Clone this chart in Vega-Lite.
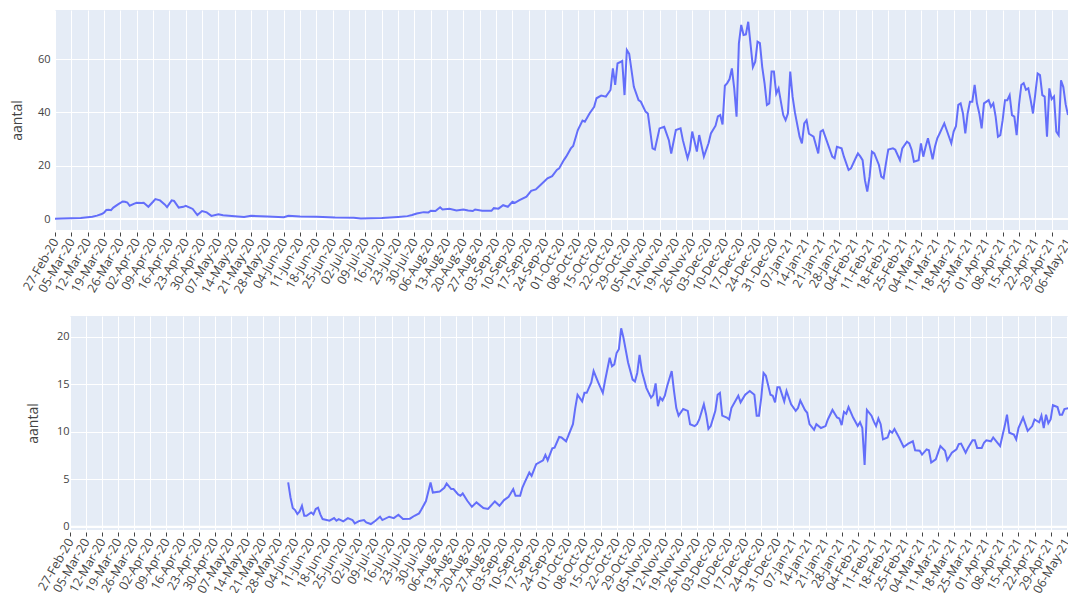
{
  "$schema": "https://vega.github.io/schema/vega-lite/v6.json",
  "padding": {"left": 9, "top": 10, "right": 0, "bottom": 0},
  "spacing": 20,
  "config": {
    "font": "Open Sans",
    "view": {"fill": "#E5ECF6", "stroke": null},
    "axis": {"labelColor": "#444", "titleColor": "#444", "gridColor": "#ffffff", "gridWidth": 1, "domain": false, "labelFont": "Open Sans", "titleFont": "Open Sans", "titleFontWeight": "normal"}
  },
  "datasets": {
    "top": [
      {"date":"2020-02-27","aantal":0.1},{"date":"2020-03-01","aantal":0.2},{"date":"2020-03-05","aantal":0.3},{"date":"2020-03-09","aantal":0.4},{"date":"2020-03-12","aantal":0.7},{"date":"2020-03-14","aantal":0.9},{"date":"2020-03-16","aantal":1.3},{"date":"2020-03-18","aantal":1.9},{"date":"2020-03-19","aantal":2.4},{"date":"2020-03-20","aantal":3.4},{"date":"2020-03-21","aantal":3.5},{"date":"2020-03-22","aantal":3.3},{"date":"2020-03-23","aantal":4.3},{"date":"2020-03-25","aantal":5.5},{"date":"2020-03-27","aantal":6.6},{"date":"2020-03-28","aantal":6.5},{"date":"2020-03-29","aantal":6.2},{"date":"2020-03-30","aantal":5.0},
      {"date":"2020-04-01","aantal":5.8},{"date":"2020-04-02","aantal":6.1},{"date":"2020-04-04","aantal":6.0},{"date":"2020-04-05","aantal":6.1},{"date":"2020-04-07","aantal":4.6},{"date":"2020-04-09","aantal":6.5},{"date":"2020-04-10","aantal":7.5},{"date":"2020-04-12","aantal":7.0},{"date":"2020-04-14","aantal":5.5},{"date":"2020-04-15","aantal":4.5},{"date":"2020-04-17","aantal":7.0},{"date":"2020-04-18","aantal":6.8},{"date":"2020-04-20","aantal":4.3},{"date":"2020-04-22","aantal":4.6},{"date":"2020-04-23","aantal":5.0},{"date":"2020-04-25","aantal":4.2},{"date":"2020-04-26","aantal":3.8},{"date":"2020-04-28","aantal":1.5},{"date":"2020-04-30","aantal":3.0},
      {"date":"2020-05-02","aantal":2.5},{"date":"2020-05-04","aantal":1.2},{"date":"2020-05-07","aantal":1.8},{"date":"2020-05-09","aantal":1.4},{"date":"2020-05-14","aantal":1.1},{"date":"2020-05-18","aantal":0.8},{"date":"2020-05-21","aantal":1.2},{"date":"2020-05-28","aantal":1.0},{"date":"2020-06-04","aantal":0.7},{"date":"2020-06-06","aantal":1.2},{"date":"2020-06-11","aantal":1.0},{"date":"2020-06-18","aantal":0.9},{"date":"2020-06-26","aantal":0.6},{"date":"2020-07-04","aantal":0.5},{"date":"2020-07-07","aantal":0.2},{"date":"2020-07-16","aantal":0.4},{"date":"2020-07-23","aantal":0.8},{"date":"2020-07-27","aantal":1.1},{"date":"2020-07-29","aantal":1.5},{"date":"2020-07-31","aantal":2.1},
      {"date":"2020-08-03","aantal":2.6},{"date":"2020-08-05","aantal":2.5},{"date":"2020-08-06","aantal":3.1},{"date":"2020-08-08","aantal":3.0},{"date":"2020-08-10","aantal":4.4},{"date":"2020-08-11","aantal":3.6},{"date":"2020-08-14","aantal":3.9},{"date":"2020-08-17","aantal":3.2},{"date":"2020-08-20","aantal":3.6},{"date":"2020-08-22","aantal":3.2},{"date":"2020-08-24","aantal":3.0},{"date":"2020-08-25","aantal":3.6},{"date":"2020-08-28","aantal":3.1},
      {"date":"2020-09-01","aantal":3.1},{"date":"2020-09-02","aantal":4.1},{"date":"2020-09-04","aantal":3.9},{"date":"2020-09-06","aantal":5.2},{"date":"2020-09-08","aantal":4.6},{"date":"2020-09-10","aantal":6.5},{"date":"2020-09-11","aantal":6.1},{"date":"2020-09-13","aantal":7.1},{"date":"2020-09-16","aantal":8.4},{"date":"2020-09-18","aantal":10.6},{"date":"2020-09-20","aantal":11.1},{"date":"2020-09-22","aantal":12.8},{"date":"2020-09-25","aantal":15.3},{"date":"2020-09-27","aantal":16.1},{"date":"2020-09-29","aantal":18.4},{"date":"2020-09-30","aantal":19.0},
      {"date":"2020-10-02","aantal":22.1},{"date":"2020-10-03","aantal":23.4},{"date":"2020-10-05","aantal":26.5},{"date":"2020-10-06","aantal":27.4},{"date":"2020-10-08","aantal":33.4},{"date":"2020-10-10","aantal":36.9},{"date":"2020-10-11","aantal":36.5},{"date":"2020-10-13","aantal":39.6},{"date":"2020-10-15","aantal":42.1},{"date":"2020-10-16","aantal":45.3},{"date":"2020-10-18","aantal":46.3},{"date":"2020-10-20","aantal":45.9},{"date":"2020-10-22","aantal":48.4},{"date":"2020-10-23","aantal":56.5},{"date":"2020-10-24","aantal":50.3},{"date":"2020-10-25","aantal":58.4},{"date":"2020-10-26","aantal":58.8},{"date":"2020-10-27","aantal":59.3},{"date":"2020-10-28","aantal":46.5},{"date":"2020-10-29","aantal":63.4},{"date":"2020-10-30","aantal":62.0},
      {"date":"2020-11-01","aantal":49.6},{"date":"2020-11-03","aantal":44.6},{"date":"2020-11-04","aantal":44.0},{"date":"2020-11-06","aantal":40.3},{"date":"2020-11-07","aantal":39.6},{"date":"2020-11-09","aantal":26.5},{"date":"2020-11-10","aantal":26.1},{"date":"2020-11-12","aantal":34.0},{"date":"2020-11-14","aantal":34.6},{"date":"2020-11-16","aantal":29.6},{"date":"2020-11-17","aantal":24.6},{"date":"2020-11-19","aantal":33.4},{"date":"2020-11-21","aantal":34.0},{"date":"2020-11-22","aantal":29.6},{"date":"2020-11-24","aantal":22.8},{"date":"2020-11-25","aantal":25.9},{"date":"2020-11-26","aantal":32.8},{"date":"2020-11-28","aantal":25.3},{"date":"2020-11-29","aantal":31.5},
      {"date":"2020-12-01","aantal":23.4},{"date":"2020-12-03","aantal":28.4},{"date":"2020-12-04","aantal":32.1},{"date":"2020-12-06","aantal":35.0},{"date":"2020-12-07","aantal":38.5},{"date":"2020-12-08","aantal":39.0},{"date":"2020-12-09","aantal":35.5},{"date":"2020-12-10","aantal":50.0},{"date":"2020-12-11","aantal":51.0},{"date":"2020-12-12","aantal":52.5},{"date":"2020-12-13","aantal":56.5},{"date":"2020-12-14","aantal":49.0},{"date":"2020-12-15","aantal":38.4},{"date":"2020-12-16","aantal":65.9},{"date":"2020-12-17","aantal":72.8},{"date":"2020-12-18","aantal":69.0},{"date":"2020-12-19","aantal":69.2},{"date":"2020-12-20","aantal":74.0},{"date":"2020-12-22","aantal":57.0},{"date":"2020-12-23","aantal":59.0},{"date":"2020-12-24","aantal":66.5},{"date":"2020-12-25","aantal":66.0},{"date":"2020-12-26","aantal":57.0},{"date":"2020-12-27","aantal":50.9},{"date":"2020-12-28","aantal":42.8},{"date":"2020-12-29","aantal":43.4},{"date":"2020-12-30","aantal":55.3},{"date":"2020-12-31","aantal":55.3},
      {"date":"2021-01-01","aantal":47.0},{"date":"2021-01-02","aantal":49.0},{"date":"2021-01-04","aantal":39.0},{"date":"2021-01-05","aantal":37.1},{"date":"2021-01-06","aantal":39.6},{"date":"2021-01-07","aantal":55.3},{"date":"2021-01-08","aantal":45.9},{"date":"2021-01-09","aantal":40.0},{"date":"2021-01-11","aantal":30.9},{"date":"2021-01-12","aantal":28.4},{"date":"2021-01-13","aantal":35.9},{"date":"2021-01-14","aantal":37.1},{"date":"2021-01-15","aantal":32.0},{"date":"2021-01-17","aantal":30.9},{"date":"2021-01-19","aantal":24.6},{"date":"2021-01-20","aantal":32.8},{"date":"2021-01-21","aantal":33.4},{"date":"2021-01-22","aantal":30.9},{"date":"2021-01-25","aantal":23.4},{"date":"2021-01-26","aantal":22.8},{"date":"2021-01-27","aantal":27.1},{"date":"2021-01-29","aantal":26.5},{"date":"2021-01-30","aantal":23.4},
      {"date":"2021-02-01","aantal":18.4},{"date":"2021-02-02","aantal":19.0},{"date":"2021-02-04","aantal":22.8},{"date":"2021-02-05","aantal":24.6},{"date":"2021-02-06","aantal":23.5},{"date":"2021-02-07","aantal":22.1},{"date":"2021-02-08","aantal":14.6},{"date":"2021-02-09","aantal":10.3},{"date":"2021-02-10","aantal":16.0},{"date":"2021-02-11","aantal":25.3},{"date":"2021-02-12","aantal":24.6},{"date":"2021-02-14","aantal":20.3},{"date":"2021-02-15","aantal":15.9},{"date":"2021-02-16","aantal":15.3},{"date":"2021-02-17","aantal":20.9},{"date":"2021-02-18","aantal":26.1},{"date":"2021-02-20","aantal":26.5},{"date":"2021-02-21","aantal":26.0},{"date":"2021-02-23","aantal":22.1},{"date":"2021-02-24","aantal":26.5},{"date":"2021-02-26","aantal":29.0},{"date":"2021-02-27","aantal":28.4},{"date":"2021-02-28","aantal":26.0},
      {"date":"2021-03-01","aantal":21.5},{"date":"2021-03-03","aantal":22.1},{"date":"2021-03-04","aantal":28.4},{"date":"2021-03-05","aantal":23.4},{"date":"2021-03-06","aantal":27.1},{"date":"2021-03-07","aantal":30.3},{"date":"2021-03-08","aantal":26.5},{"date":"2021-03-09","aantal":22.4},{"date":"2021-03-10","aantal":27.1},{"date":"2021-03-11","aantal":30.3},{"date":"2021-03-12","aantal":32.1},{"date":"2021-03-13","aantal":34.0},{"date":"2021-03-14","aantal":35.9},{"date":"2021-03-15","aantal":33.4},{"date":"2021-03-17","aantal":28.4},{"date":"2021-03-18","aantal":32.8},{"date":"2021-03-19","aantal":34.8},{"date":"2021-03-20","aantal":42.8},{"date":"2021-03-21","aantal":43.4},{"date":"2021-03-22","aantal":39.6},{"date":"2021-03-23","aantal":32.1},{"date":"2021-03-24","aantal":39.6},{"date":"2021-03-25","aantal":44.0},{"date":"2021-03-26","aantal":44.0},{"date":"2021-03-27","aantal":50.3},{"date":"2021-03-28","aantal":43.4},{"date":"2021-03-29","aantal":39.6},{"date":"2021-03-30","aantal":34.0},{"date":"2021-03-31","aantal":43.4},
      {"date":"2021-04-02","aantal":44.6},{"date":"2021-04-03","aantal":42.1},{"date":"2021-04-04","aantal":43.4},{"date":"2021-04-05","aantal":38.4},{"date":"2021-04-06","aantal":30.9},{"date":"2021-04-07","aantal":31.5},{"date":"2021-04-08","aantal":37.1},{"date":"2021-04-09","aantal":44.6},{"date":"2021-04-10","aantal":44.6},{"date":"2021-04-11","aantal":46.5},{"date":"2021-04-12","aantal":39.0},{"date":"2021-04-13","aantal":38.4},{"date":"2021-04-14","aantal":31.5},{"date":"2021-04-15","aantal":42.8},{"date":"2021-04-16","aantal":50.3},{"date":"2021-04-17","aantal":51.0},{"date":"2021-04-18","aantal":48.5},{"date":"2021-04-19","aantal":49.0},{"date":"2021-04-20","aantal":44.6},{"date":"2021-04-21","aantal":39.6},{"date":"2021-04-22","aantal":47.0},{"date":"2021-04-23","aantal":54.6},{"date":"2021-04-24","aantal":54.0},{"date":"2021-04-25","aantal":46.5},{"date":"2021-04-26","aantal":45.9},{"date":"2021-04-27","aantal":30.9},{"date":"2021-04-28","aantal":49.0},{"date":"2021-04-29","aantal":45.0},{"date":"2021-04-30","aantal":46.0},
      {"date":"2021-05-01","aantal":32.8},{"date":"2021-05-02","aantal":31.5},{"date":"2021-05-03","aantal":52.0},{"date":"2021-05-04","aantal":49.5},{"date":"2021-05-05","aantal":43.0},{"date":"2021-05-06","aantal":39.0}
    ],
    "bottom": [
      {"date":"2020-06-01","aantal":4.66},{"date":"2020-06-02","aantal":3.1},{"date":"2020-06-03","aantal":1.96},{"date":"2020-06-04","aantal":1.75},{"date":"2020-06-05","aantal":1.33},{"date":"2020-06-06","aantal":1.6},{"date":"2020-06-07","aantal":2.2},{"date":"2020-06-08","aantal":1.15},{"date":"2020-06-09","aantal":1.15},{"date":"2020-06-11","aantal":1.5},{"date":"2020-06-12","aantal":1.3},{"date":"2020-06-13","aantal":1.86},{"date":"2020-06-14","aantal":2.0},{"date":"2020-06-15","aantal":1.3},{"date":"2020-06-16","aantal":0.8},{"date":"2020-06-19","aantal":0.63},{"date":"2020-06-21","aantal":0.9},{"date":"2020-06-22","aantal":0.63},{"date":"2020-06-23","aantal":0.8},{"date":"2020-06-25","aantal":0.56},{"date":"2020-06-27","aantal":0.9},{"date":"2020-06-29","aantal":0.7},{"date":"2020-06-30","aantal":0.35},
      {"date":"2020-07-02","aantal":0.6},{"date":"2020-07-04","aantal":0.7},{"date":"2020-07-05","aantal":0.45},{"date":"2020-07-07","aantal":0.28},{"date":"2020-07-09","aantal":0.63},{"date":"2020-07-11","aantal":1.05},{"date":"2020-07-12","aantal":0.7},{"date":"2020-07-15","aantal":1.05},{"date":"2020-07-17","aantal":0.9},{"date":"2020-07-19","aantal":1.26},{"date":"2020-07-21","aantal":0.8},{"date":"2020-07-24","aantal":0.84},{"date":"2020-07-26","aantal":1.15},{"date":"2020-07-28","aantal":1.4},{"date":"2020-07-29","aantal":1.8},{"date":"2020-07-31","aantal":2.7},
      {"date":"2020-08-02","aantal":4.66},{"date":"2020-08-03","aantal":3.6},{"date":"2020-08-06","aantal":3.7},{"date":"2020-08-08","aantal":4.1},{"date":"2020-08-09","aantal":4.55},{"date":"2020-08-11","aantal":3.96},{"date":"2020-08-12","aantal":3.96},{"date":"2020-08-14","aantal":3.4},{"date":"2020-08-15","aantal":3.25},{"date":"2020-08-16","aantal":3.5},{"date":"2020-08-18","aantal":2.73},{"date":"2020-08-20","aantal":2.1},{"date":"2020-08-22","aantal":2.56},{"date":"2020-08-25","aantal":1.96},{"date":"2020-08-27","aantal":1.86},{"date":"2020-08-30","aantal":2.66},
      {"date":"2020-09-01","aantal":2.2},{"date":"2020-09-03","aantal":2.8},{"date":"2020-09-05","aantal":3.15},{"date":"2020-09-07","aantal":3.96},{"date":"2020-09-08","aantal":3.25},{"date":"2020-09-10","aantal":3.25},{"date":"2020-09-11","aantal":4.13},{"date":"2020-09-12","aantal":4.66},{"date":"2020-09-14","aantal":5.7},{"date":"2020-09-15","aantal":5.36},{"date":"2020-09-17","aantal":6.58},{"date":"2020-09-20","aantal":7.0},{"date":"2020-09-21","aantal":7.56},{"date":"2020-09-22","aantal":7.0},{"date":"2020-09-24","aantal":8.26},{"date":"2020-09-25","aantal":8.33},{"date":"2020-09-27","aantal":9.45},{"date":"2020-09-28","aantal":9.4},{"date":"2020-09-30","aantal":9.0},
      {"date":"2020-10-03","aantal":10.8},{"date":"2020-10-04","aantal":12.5},{"date":"2020-10-05","aantal":13.9},{"date":"2020-10-07","aantal":13.2},{"date":"2020-10-08","aantal":14.1},{"date":"2020-10-09","aantal":14.1},{"date":"2020-10-11","aantal":15.2},{"date":"2020-10-12","aantal":16.4},{"date":"2020-10-14","aantal":15.2},{"date":"2020-10-16","aantal":14.1},{"date":"2020-10-17","aantal":15.4},{"date":"2020-10-19","aantal":17.8},{"date":"2020-10-20","aantal":16.9},{"date":"2020-10-21","aantal":17.1},{"date":"2020-10-22","aantal":18.3},{"date":"2020-10-23","aantal":18.7},{"date":"2020-10-24","aantal":20.9},{"date":"2020-10-25","aantal":19.9},{"date":"2020-10-27","aantal":17.3},{"date":"2020-10-29","aantal":15.5},{"date":"2020-10-30","aantal":15.3},{"date":"2020-10-31","aantal":16.2},
      {"date":"2020-11-01","aantal":18.1},{"date":"2020-11-02","aantal":16.4},{"date":"2020-11-04","aantal":14.6},{"date":"2020-11-06","aantal":13.6},{"date":"2020-11-07","aantal":13.9},{"date":"2020-11-08","aantal":15.1},{"date":"2020-11-09","aantal":12.7},{"date":"2020-11-10","aantal":13.6},{"date":"2020-11-11","aantal":13.3},{"date":"2020-11-12","aantal":13.8},{"date":"2020-11-13","aantal":14.8},{"date":"2020-11-15","aantal":16.4},{"date":"2020-11-16","aantal":14.3},{"date":"2020-11-17","aantal":12.5},{"date":"2020-11-18","aantal":11.7},{"date":"2020-11-20","aantal":12.4},{"date":"2020-11-22","aantal":12.2},{"date":"2020-11-23","aantal":10.8},{"date":"2020-11-25","aantal":10.6},{"date":"2020-11-26","aantal":10.8},{"date":"2020-11-27","aantal":11.3},{"date":"2020-11-29","aantal":12.9},{"date":"2020-11-30","aantal":11.8},
      {"date":"2020-12-01","aantal":10.3},{"date":"2020-12-02","aantal":10.6},{"date":"2020-12-04","aantal":12.2},{"date":"2020-12-05","aantal":13.9},{"date":"2020-12-06","aantal":14.1},{"date":"2020-12-07","aantal":11.7},{"date":"2020-12-09","aantal":11.5},{"date":"2020-12-10","aantal":11.3},{"date":"2020-12-11","aantal":12.5},{"date":"2020-12-14","aantal":13.8},{"date":"2020-12-15","aantal":13.1},{"date":"2020-12-17","aantal":13.9},{"date":"2020-12-19","aantal":14.3},{"date":"2020-12-21","aantal":13.9},{"date":"2020-12-22","aantal":11.7},{"date":"2020-12-23","aantal":11.7},{"date":"2020-12-24","aantal":13.6},{"date":"2020-12-25","aantal":16.2},{"date":"2020-12-26","aantal":15.9},{"date":"2020-12-28","aantal":13.9},{"date":"2020-12-29","aantal":13.8},{"date":"2020-12-30","aantal":13.1},{"date":"2020-12-31","aantal":14.7},
      {"date":"2021-01-01","aantal":14.7},{"date":"2021-01-03","aantal":13.2},{"date":"2021-01-04","aantal":14.3},{"date":"2021-01-06","aantal":12.9},{"date":"2021-01-08","aantal":12.2},{"date":"2021-01-09","aantal":12.5},{"date":"2021-01-10","aantal":13.3},{"date":"2021-01-12","aantal":12.3},{"date":"2021-01-13","aantal":12.0},{"date":"2021-01-14","aantal":10.8},{"date":"2021-01-16","aantal":10.2},{"date":"2021-01-17","aantal":10.8},{"date":"2021-01-19","aantal":10.4},{"date":"2021-01-21","aantal":10.6},{"date":"2021-01-22","aantal":11.3},{"date":"2021-01-24","aantal":12.3},{"date":"2021-01-26","aantal":11.5},{"date":"2021-01-27","aantal":11.4},{"date":"2021-01-28","aantal":10.7},{"date":"2021-01-29","aantal":12.1},{"date":"2021-01-30","aantal":11.9},{"date":"2021-01-31","aantal":12.6},
      {"date":"2021-02-02","aantal":11.5},{"date":"2021-02-04","aantal":10.6},{"date":"2021-02-05","aantal":11.0},{"date":"2021-02-06","aantal":10.4},{"date":"2021-02-07","aantal":6.5},{"date":"2021-02-08","aantal":12.3},{"date":"2021-02-10","aantal":11.7},{"date":"2021-02-11","aantal":11.1},{"date":"2021-02-12","aantal":10.6},{"date":"2021-02-13","aantal":11.4},{"date":"2021-02-14","aantal":10.8},{"date":"2021-02-15","aantal":9.2},{"date":"2021-02-17","aantal":9.4},{"date":"2021-02-18","aantal":10.1},{"date":"2021-02-19","aantal":9.9},{"date":"2021-02-20","aantal":10.3},{"date":"2021-02-22","aantal":9.4},{"date":"2021-02-24","aantal":8.4},{"date":"2021-02-26","aantal":8.75},{"date":"2021-02-28","aantal":9.0},
      {"date":"2021-03-01","aantal":8.05},{"date":"2021-03-03","aantal":8.0},{"date":"2021-03-04","aantal":7.6},{"date":"2021-03-06","aantal":8.15},{"date":"2021-03-07","aantal":8.05},{"date":"2021-03-08","aantal":6.75},{"date":"2021-03-10","aantal":7.1},{"date":"2021-03-11","aantal":7.8},{"date":"2021-03-12","aantal":8.5},{"date":"2021-03-14","aantal":8.0},{"date":"2021-03-15","aantal":7.0},{"date":"2021-03-17","aantal":7.8},{"date":"2021-03-19","aantal":8.15},{"date":"2021-03-20","aantal":8.7},{"date":"2021-03-21","aantal":8.75},{"date":"2021-03-23","aantal":7.8},{"date":"2021-03-24","aantal":8.3},{"date":"2021-03-26","aantal":9.1},{"date":"2021-03-27","aantal":9.1},{"date":"2021-03-28","aantal":8.3},{"date":"2021-03-30","aantal":8.3},{"date":"2021-03-31","aantal":8.85},
      {"date":"2021-04-01","aantal":9.1},{"date":"2021-04-03","aantal":9.0},{"date":"2021-04-04","aantal":9.4},{"date":"2021-04-05","aantal":9.1},{"date":"2021-04-07","aantal":8.5},{"date":"2021-04-08","aantal":9.55},{"date":"2021-04-09","aantal":10.6},{"date":"2021-04-10","aantal":11.8},{"date":"2021-04-11","aantal":9.9},{"date":"2021-04-13","aantal":9.7},{"date":"2021-04-14","aantal":9.2},{"date":"2021-04-15","aantal":10.4},{"date":"2021-04-17","aantal":11.5},{"date":"2021-04-18","aantal":10.8},{"date":"2021-04-19","aantal":10.1},{"date":"2021-04-21","aantal":10.6},{"date":"2021-04-22","aantal":11.3},{"date":"2021-04-24","aantal":11.0},{"date":"2021-04-25","aantal":11.7},{"date":"2021-04-26","aantal":10.4},{"date":"2021-04-27","aantal":11.8},{"date":"2021-04-28","aantal":10.9},{"date":"2021-04-29","aantal":11.3},{"date":"2021-04-30","aantal":12.8},
      {"date":"2021-05-02","aantal":12.6},{"date":"2021-05-03","aantal":11.8},{"date":"2021-05-04","aantal":11.8},{"date":"2021-05-05","aantal":12.4},{"date":"2021-05-07","aantal":12.5}
    ]
  },
  "vconcat": [
    {
      "spacing": 0,
      "hconcat": [
        {
          "width": 1, "height": 1,
          "view": {"fill": null, "stroke": null},
          "data": {"values": []},
          "mark": {"type": "point", "opacity": 0}
        },
        {
          "width": 1013,
          "height": 220,
          "layer": [
            {
              "data": {"values": [{"nul": 0}]},
              "mark": {"type": "rule", "color": "#ffffff", "strokeWidth": 2},
              "encoding": {"y": {"field": "nul", "type": "quantitative"}}
            },
            {
              "data": {"name": "top"},
              "mark": {"type": "line", "color": "#636EFA", "strokeWidth": 2},
              "encoding": {
                "x": {
                  "field": "date", "type": "temporal",
                  "scale": {"type": "utc", "domain": [1582761600000, 1620259200000]},
                  "axis": {
                    "values": [1582761600000,1583366400000,1583971200000,1584576000000,1585180800000,1585785600000,1586390400000,1586995200000,1587600000000,1588204800000,1588809600000,1589414400000,1590019200000,1590624000000,1591228800000,1591833600000,1592438400000,1593043200000,1593648000000,1594252800000,1594857600000,1595462400000,1596067200000,1596672000000,1597276800000,1597881600000,1598486400000,1599091200000,1599696000000,1600300800000,1600905600000,1601510400000,1602115200000,1602720000000,1603324800000,1603929600000,1604534400000,1605139200000,1605744000000,1606348800000,1606953600000,1607558400000,1608163200000,1608768000000,1609372800000,1609977600000,1610582400000,1611187200000,1611792000000,1612396800000,1613001600000,1613606400000,1614211200000,1614816000000,1615420800000,1616025600000,1616630400000,1617235200000,1617840000000,1618444800000,1619049600000,1619654400000,1620259200000],
                    "format": "%d-%b-%y",
                    "labelAngle": -60, "labelAlign": "right", "labelBaseline": "middle",
                    "labelFontSize": 12.5, "labelPadding": 3, "labelOverlap": false, "labelFlush": false, "labelBound": false,
                    "tickSize": 4, "tickColor": "#444", "offset": 2,
                    "grid": true, "title": null
                  }
                },
                "y": {
                  "field": "aantal", "type": "quantitative",
                  "scale": {"domain": [-4.1, 78.4], "nice": false, "zero": false},
                  "axis": {"values": [0, 20, 40, 60], "ticks": false, "labelPadding": 5, "labelFontSize": 11, "title": "aantal", "titleFontSize": 14, "titlePadding": 13, "grid": true}
                }
              }
            }
          ]
        }
      ]
    },
    {
      "spacing": 0,
      "hconcat": [
        {
          "width": 17, "height": 1,
          "view": {"fill": null, "stroke": null},
          "data": {"values": []},
          "mark": {"type": "point", "opacity": 0}
        },
        {
          "width": 999,
          "height": 214,
          "layer": [
            {
              "data": {"values": [{"nul": 0}]},
              "mark": {"type": "rule", "color": "#ffffff", "strokeWidth": 2},
              "encoding": {"y": {"field": "nul", "type": "quantitative"}}
            },
            {
              "data": {"name": "bottom"},
              "mark": {"type": "line", "color": "#636EFA", "strokeWidth": 2},
              "encoding": {
                "x": {
                  "field": "date", "type": "temporal",
                  "scale": {"type": "utc", "domain": [1582761600000, 1620345600000]},
                  "axis": {
                    "values": [1582761600000,1583366400000,1583971200000,1584576000000,1585180800000,1585785600000,1586390400000,1586995200000,1587600000000,1588204800000,1588809600000,1589414400000,1590019200000,1590624000000,1591228800000,1591833600000,1592438400000,1593043200000,1593648000000,1594252800000,1594857600000,1595462400000,1596067200000,1596672000000,1597276800000,1597881600000,1598486400000,1599091200000,1599696000000,1600300800000,1600905600000,1601510400000,1602115200000,1602720000000,1603324800000,1603929600000,1604534400000,1605139200000,1605744000000,1606348800000,1606953600000,1607558400000,1608163200000,1608768000000,1609372800000,1609977600000,1610582400000,1611187200000,1611792000000,1612396800000,1613001600000,1613606400000,1614211200000,1614816000000,1615420800000,1616025600000,1616630400000,1617235200000,1617840000000,1618444800000,1619049600000,1619654400000,1620259200000],
                    "format": "%d-%b-%y",
                    "labelAngle": -60, "labelAlign": "right", "labelBaseline": "middle",
                    "labelFontSize": 12.5, "labelPadding": 3, "labelOverlap": false, "labelFlush": false, "labelBound": false,
                    "tickSize": 4, "tickColor": "#444", "offset": 2,
                    "grid": true, "title": null
                  }
                },
                "y": {
                  "field": "aantal", "type": "quantitative",
                  "scale": {"domain": [-0.35, 22.2], "nice": false, "zero": false},
                  "axis": {"values": [0, 5, 10, 15, 20], "ticks": false, "labelPadding": 1, "labelFontSize": 11, "title": "aantal", "titleFontSize": 14, "titlePadding": 16, "grid": true}
                }
              }
            }
          ]
        }
      ]
    }
  ]
}
